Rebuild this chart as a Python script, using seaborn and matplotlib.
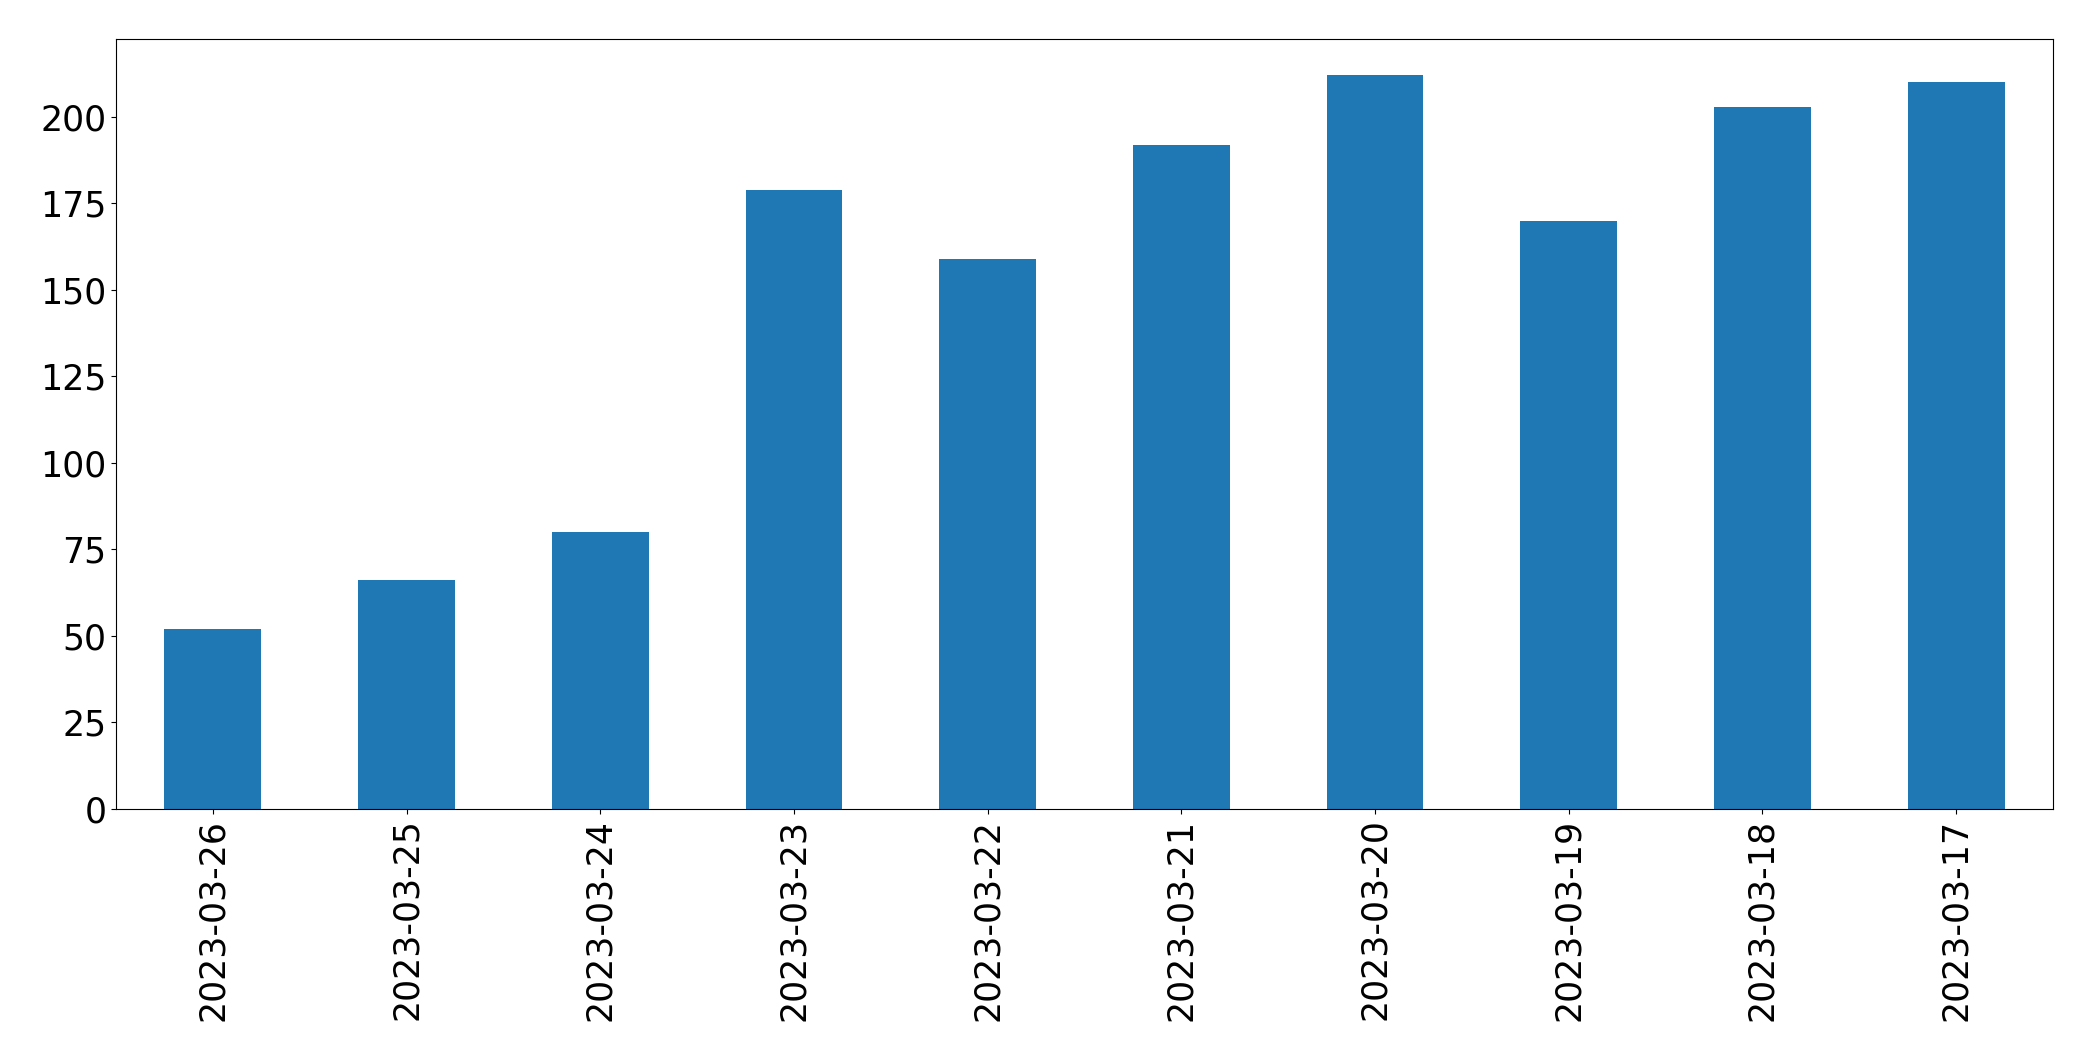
import matplotlib
matplotlib.use("Agg")
import matplotlib.pyplot as plt
import pandas as pd
import seaborn as sns

# daily counts, newest date first (as in the original)
dates = ["2023-03-26", "2023-03-25", "2023-03-24", "2023-03-23", "2023-03-22",
         "2023-03-21", "2023-03-20", "2023-03-19", "2023-03-18", "2023-03-17"]
counts = [52, 66, 80, 179, 159, 192, 212, 170, 203, 210]

df = pd.DataFrame({"date": dates, "count": counts})

fig, ax = plt.subplots(figsize=(20.93, 10.61), dpi=100)
fig.subplots_adjust(left=116 / 2093, right=2053 / 2093,
                    top=1 - 38.7 / 1061, bottom=1 - 808.8 / 1061)

sns.barplot(data=df, x="date", y="count", order=dates, color="#1f77b4",
            saturation=1, width=0.5, linewidth=0, ax=ax)

ax.set_xlim(-0.5, len(dates) - 0.5)
ax.set_xlabel("")
ax.set_ylabel("")
ax.tick_params(axis="both", labelsize=25)
ax.tick_params(axis="x", labelrotation=90)
for side in ax.spines.values():
    side.set_edgecolor("black")

fig.savefig("out.png", dpi=100)
